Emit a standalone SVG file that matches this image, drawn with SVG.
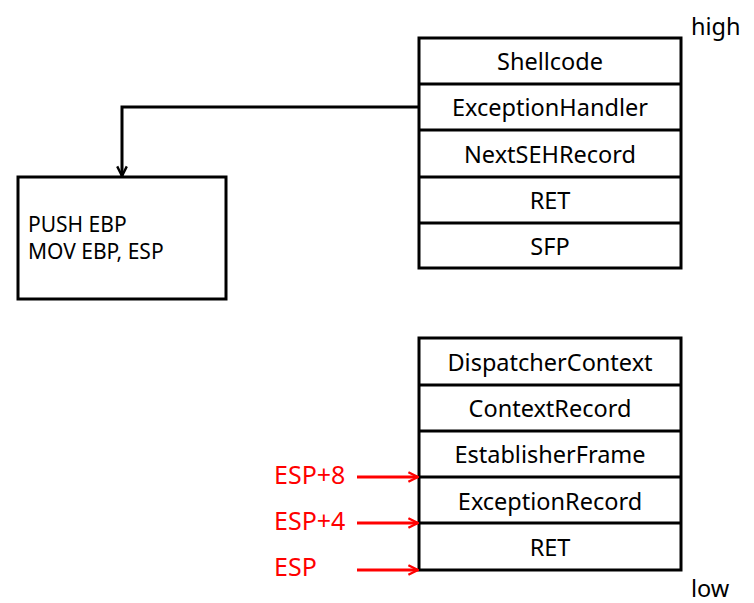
<svg xmlns="http://www.w3.org/2000/svg" width="754" height="603" viewBox="0 0 754 603">
<style>
.box{fill:#fff;stroke:#000;stroke-width:3}
.sep{stroke:#000;stroke-width:3}
.t{font-family:"Noto Sans","Open Sans",sans-serif;font-size:23.5px;fill:#000}
.c{text-anchor:middle}
.r{fill:#f00;font-size:25px}
.s{font-size:21px}
.conn{fill:none;stroke:#000;stroke-width:3}
.rc{fill:none;stroke:#f00;stroke-width:3}
</style>
<defs>
<marker id="ah" viewBox="0 0 10 10" refX="9" refY="5" markerWidth="4" markerHeight="4" orient="auto" markerUnits="strokeWidth">
<path d="M1,1 L9,5 L1,9" fill="none" stroke="#000" stroke-width="2"/>
</marker>
<marker id="ahr" viewBox="0 0 10 10" refX="9" refY="5" markerWidth="4" markerHeight="4" orient="auto" markerUnits="strokeWidth">
<path d="M1,1 L9,5 L1,9" fill="none" stroke="#f00" stroke-width="2"/>
</marker>
</defs>
<g id="high-stack">
<rect class="box" x="419" y="38" width="262" height="230"/>
<line class="sep" x1="419" y1="84" x2="681" y2="84"/>
<line class="sep" x1="419" y1="130" x2="681" y2="130"/>
<line class="sep" x1="419" y1="177" x2="681" y2="177"/>
<line class="sep" x1="419" y1="223" x2="681" y2="223"/>
<text class="t c" x="550" y="70">Shellcode</text>
<text class="t c" x="550" y="116">ExceptionHandler</text>
<text class="t c" x="550" y="163">NextSEHRecord</text>
<text class="t c" x="550" y="209">RET</text>
<text class="t c" x="550" y="255">SFP</text>
</g>
<g id="code-box">
<rect class="box" x="18" y="177" width="208" height="122"/>
<text class="t s" x="28" y="232">PUSH EBP</text>
<text class="t s" x="28" y="259">MOV EBP, ESP</text>
</g>
<g id="low-stack">
<rect class="box" x="419" y="338" width="262" height="232"/>
<line class="sep" x1="419" y1="385" x2="681" y2="385"/>
<line class="sep" x1="419" y1="431" x2="681" y2="431"/>
<line class="sep" x1="419" y1="477" x2="681" y2="477"/>
<line class="sep" x1="419" y1="523" x2="681" y2="523"/>
<text class="t c" x="550" y="371">DispatcherContext</text>
<text class="t c" x="550" y="417">ContextRecord</text>
<text class="t c" x="550" y="463">EstablisherFrame</text>
<text class="t c" x="550" y="510">ExceptionRecord</text>
<text class="t c" x="550" y="556">RET</text>
</g>
<g id="labels">
<text class="t" x="691" y="35">high</text>
<text class="t" x="691" y="597">low</text>
<text class="t r" x="274" y="484">ESP+8</text>
<text class="t r" x="274" y="530">ESP+4</text>
<text class="t r" x="274" y="576">ESP</text>
</g>
<g id="connectors">
<path class="conn" d="M419,107 H122 V176" marker-end="url(#ah)"/>
<line class="rc" x1="357" y1="477" x2="418" y2="477" marker-end="url(#ahr)"/>
<line class="rc" x1="357" y1="523" x2="418" y2="523" marker-end="url(#ahr)"/>
<line class="rc" x1="357" y1="570" x2="418" y2="570" marker-end="url(#ahr)"/>
</g>
</svg>
